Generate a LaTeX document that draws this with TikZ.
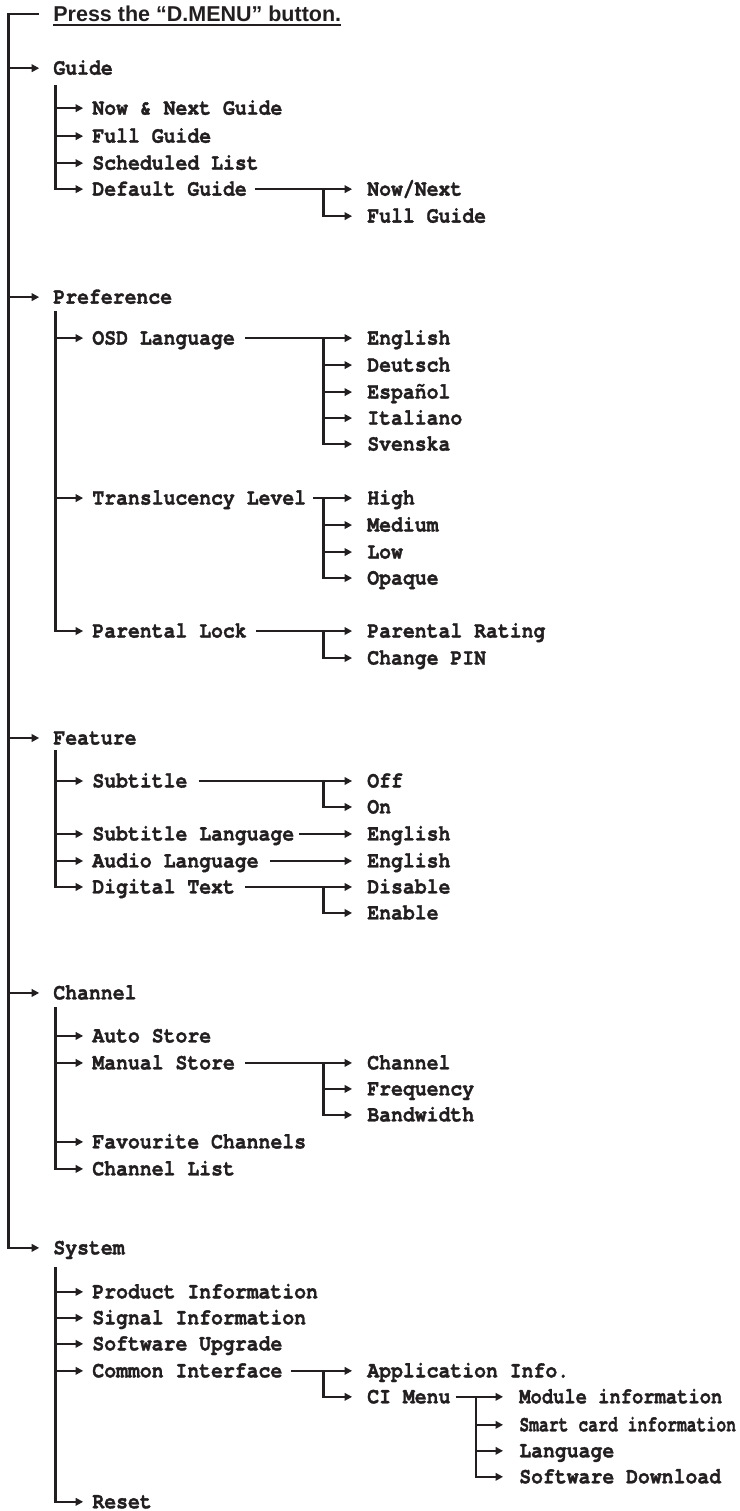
\documentclass[tikz,border=0pt]{standalone}
\usepackage{fontspec}
\usepackage{graphicx}
\usetikzlibrary{arrows.meta}
\newfontfamily\menufont{texgyrecursor}[Extension=.otf, UprightFont=*-regular, BoldFont=*-bold, FakeStretch=0.87, FakeBold=1.3, Ligatures=NoCommon]
\newfontfamily\ttlfont{Liberation Sans}
\definecolor{ink}{HTML}{231F20}
\begin{document}
\begin{tikzpicture}[x=1pt,y=-1pt,
  every path/.style={draw=ink},
  lbl/.style={anchor=west, inner sep=0pt, text height=13pt, text depth=0pt,
              text=ink, font=\menufont\bfseries\fontsize{22.75}{22.75}\selectfont},
  ln/.style={line width=2.4pt},
  arr/.style={ln, -{Triangle[length=7.5pt,width=7.5pt]}},
  trunk/.style={ln, line cap=rect},
  a1/.style={arr, shorten >=14pt},
  a2/.style={arr, shorten >=9pt},
  a3/.style={arr, shorten >=15pt},
  a4/.style={arr, shorten >=16pt}]
\useasboundingbox (0,0) rectangle (739,1511);
\fill[white] (0,0) rectangle (739,1511);

% title
\node[anchor=base west, inner sep=0pt, text=ink,
      font=\ttlfont\bfseries\fontsize{21.5}{21.5}\selectfont] (title) at (53,21) {Press the “D.MENU” button.};
\draw[line width=1.4pt] ([yshift=-3.8pt]title.base west) -- ([yshift=-3.8pt]title.base east);
\coordinate (T0) at (8.5,14);
\coordinate (tl) at (39,14);

% level 1
\node[lbl] (guide) at (53,68) {Guide};
\node[lbl] (pref) at (53,297) {Preference};
\node[lbl] (feat) at (53,738) {Feature};
\node[lbl] (chan) at (53,993) {Channel};
\node[lbl] (sys) at (53,1248) {System};

\draw[trunk] (T0) -- (T0 |- sys.west);
\draw[ln] (T0) -- (tl);
\foreach \n in {guide,pref,feat,chan,sys} \draw[a1] (T0 |- \n.west) -- (\n.west);

% ---------------- Guide
\node[lbl] (nng) at (92,108) {Now \& Next Guide};
\node[lbl] (fg) at (92,136) {Full Guide};
\node[lbl] (sl) at (92,163) {Scheduled List};
\node[lbl] (dg) at (92,189) {Default Guide};
\coordinate (Tg) at (55.5,86);
\draw[trunk] (Tg) -- (Tg |- dg.west);
\foreach \n in {nng,fg,sl,dg} \draw[a2] (Tg |- \n.west) -- (\n.west);

\node[lbl] (nn) at (367,189) {Now/Next};
\node[lbl] (fg2) at (367,216) {Full Guide};
\coordinate (Tdg) at (323.5,189);
\draw[a3] (dg.east) ++(8,0) -- (nn.west);
\draw[trunk] (Tdg) -- (Tdg |- fg2.west);
\draw[a3] (Tdg |- fg2.west) -- (fg2.west);

% ---------------- Preference
\node[lbl] (osd) at (92,338) {OSD Language};
\node[lbl] (trl) at (92,498) {Translucency Level};
\node[lbl] (pl) at (92,631) {Parental Lock};
\coordinate (Tp) at (55.5,312);
\draw[trunk] (Tp) -- (Tp |- pl.west);
\foreach \n in {osd,trl,pl} \draw[a2] (Tp |- \n.west) -- (\n.west);

\node[lbl] (en1) at (367,338) {English};
\node[lbl] (de) at (367,365) {Deutsch};
\node[lbl] (es) at (367,392) {Español};
\node[lbl] (it) at (367,418) {Italiano};
\node[lbl] (sv) at (367,444) {Svenska};
\coordinate (Tosd) at (323.5,338);
\draw[a3] (osd.east) ++(10,0) -- (en1.west);
\draw[trunk] (Tosd) -- (Tosd |- sv.west);
\foreach \n in {de,es,it,sv} \draw[a3] (Tosd |- \n.west) -- (\n.west);

\node[lbl] (hi) at (367,498) {High};
\node[lbl] (me) at (367,525) {Medium};
\node[lbl] (lo) at (367,552) {Low};
\node[lbl] (op) at (367,578) {Opaque};
\coordinate (Ttrl) at (323.5,498);
\draw[a3] (trl.east) ++(7,0) -- (hi.west);
\draw[trunk] (Ttrl) -- (Ttrl |- op.west);
\foreach \n in {me,lo,op} \draw[a3] (Ttrl |- \n.west) -- (\n.west);

\node[lbl] (pr) at (367,631) {Parental Rating};
\node[lbl] (cp) at (367,658) {Change PIN};
\coordinate (Tpl) at (323.5,631);
\draw[a3] (pl.east) ++(9,0) -- (pr.west);
\draw[trunk] (Tpl) -- (Tpl |- cp.west);
\draw[a3] (Tpl |- cp.west) -- (cp.west);

% ---------------- Feature
\node[lbl] (sub) at (92,781) {Subtitle};
\node[lbl] (sublang) at (92,834) {Subtitle Language};
\node[lbl] (aud) at (92,861) {Audio Language};
\node[lbl] (dt) at (92,887) {Digital Text};
\coordinate (Tf) at (55.5,751);
\draw[trunk] (Tf) -- (Tf |- dt.west);
\foreach \n in {sub,sublang,aud,dt} \draw[a2] (Tf |- \n.west) -- (\n.west);

\node[lbl] (off) at (367,781) {Off};
\node[lbl] (on) at (367,807) {On};
\coordinate (Tsub) at (323.5,781);
\draw[a3] (sub.east) ++(11,0) -- (off.west);
\draw[trunk] (Tsub) -- (Tsub |- on.west);
\draw[a3] (Tsub |- on.west) -- (on.west);

\node[lbl] (en2) at (367,834) {English};
\draw[a3] (sublang.east) ++(5,0) -- (en2.west);
\node[lbl] (en3) at (367,861) {English};
\draw[a3] (aud.east) ++(11,0) -- (en3.west);

\node[lbl] (dis) at (367,887) {Disable};
\node[lbl] (ena) at (367,913) {Enable};
\coordinate (Tdt) at (323.5,887);
\draw[a3] (dt.east) ++(10,0) -- (dis.west);
\draw[trunk] (Tdt) -- (Tdt |- ena.west);
\draw[a3] (Tdt |- ena.west) -- (ena.west);

% ---------------- Channel
\node[lbl] (as) at (92,1036) {Auto Store};
\node[lbl] (ms) at (92,1063) {Manual Store};
\node[lbl] (fav) at (92,1142) {Favourite Channels};
\node[lbl] (cl) at (92,1169) {Channel List};
\coordinate (Tc) at (55.5,1008);
\draw[trunk] (Tc) -- (Tc |- cl.west);
\foreach \n in {as,ms,fav,cl} \draw[a2] (Tc |- \n.west) -- (\n.west);

\node[lbl] (ch) at (367,1063) {Channel};
\node[lbl] (fr) at (367,1089) {Frequency};
\node[lbl] (bw) at (367,1115) {Bandwidth};
\coordinate (Tms) at (323.5,1063);
\draw[a3] (ms.east) ++(10,0) -- (ch.west);
\draw[trunk] (Tms) -- (Tms |- bw.west);
\foreach \n in {fr,bw} \draw[a3] (Tms |- \n.west) -- (\n.west);

% ---------------- System
\node[lbl] (pi) at (92,1292) {Product Information};
\node[lbl] (si) at (92,1318) {Signal Information};
\node[lbl] (su) at (92,1344) {Software Upgrade};
\node[lbl] (ci) at (92,1371) {Common Interface};
\node[lbl] (rs) at (92,1502) {Reset};
\coordinate (Ts) at (55.5,1268);
\draw[trunk] (Ts) -- (Ts |- rs.west);
\foreach \n in {pi,si,su,ci,rs} \draw[a2] (Ts |- \n.west) -- (\n.west);

\node[lbl] (ai) at (367,1371) {Application Info.};
\node[lbl] (cim) at (367,1397) {CI Menu};
\coordinate (Tci) at (323.5,1371);
\draw[a3] (ci.east) ++(8,0) -- (ai.west);
\draw[trunk] (Tci) -- (Tci |- cim.west);
\draw[a3] (Tci |- cim.west) -- (cim.west);

\node[lbl] (mi) at (519,1397) {\scalebox{0.95}[1]{Module information}};
\node[lbl] (sc) at (519,1425) {\scalebox{0.83}[1]{Smart card information}};
\node[lbl] (la) at (519,1451) {Language};
\node[lbl] (sd) at (519,1477) {Software Download};
\coordinate (Tcim) at (476,1397);
\draw[a4] (cim.east) ++(5,0) -- (mi.west);
\draw[trunk] (Tcim) -- (Tcim |- sd.west);
\foreach \n in {sc,la,sd} \draw[a4] (Tcim |- \n.west) -- (\n.west);
\end{tikzpicture}
\end{document}
